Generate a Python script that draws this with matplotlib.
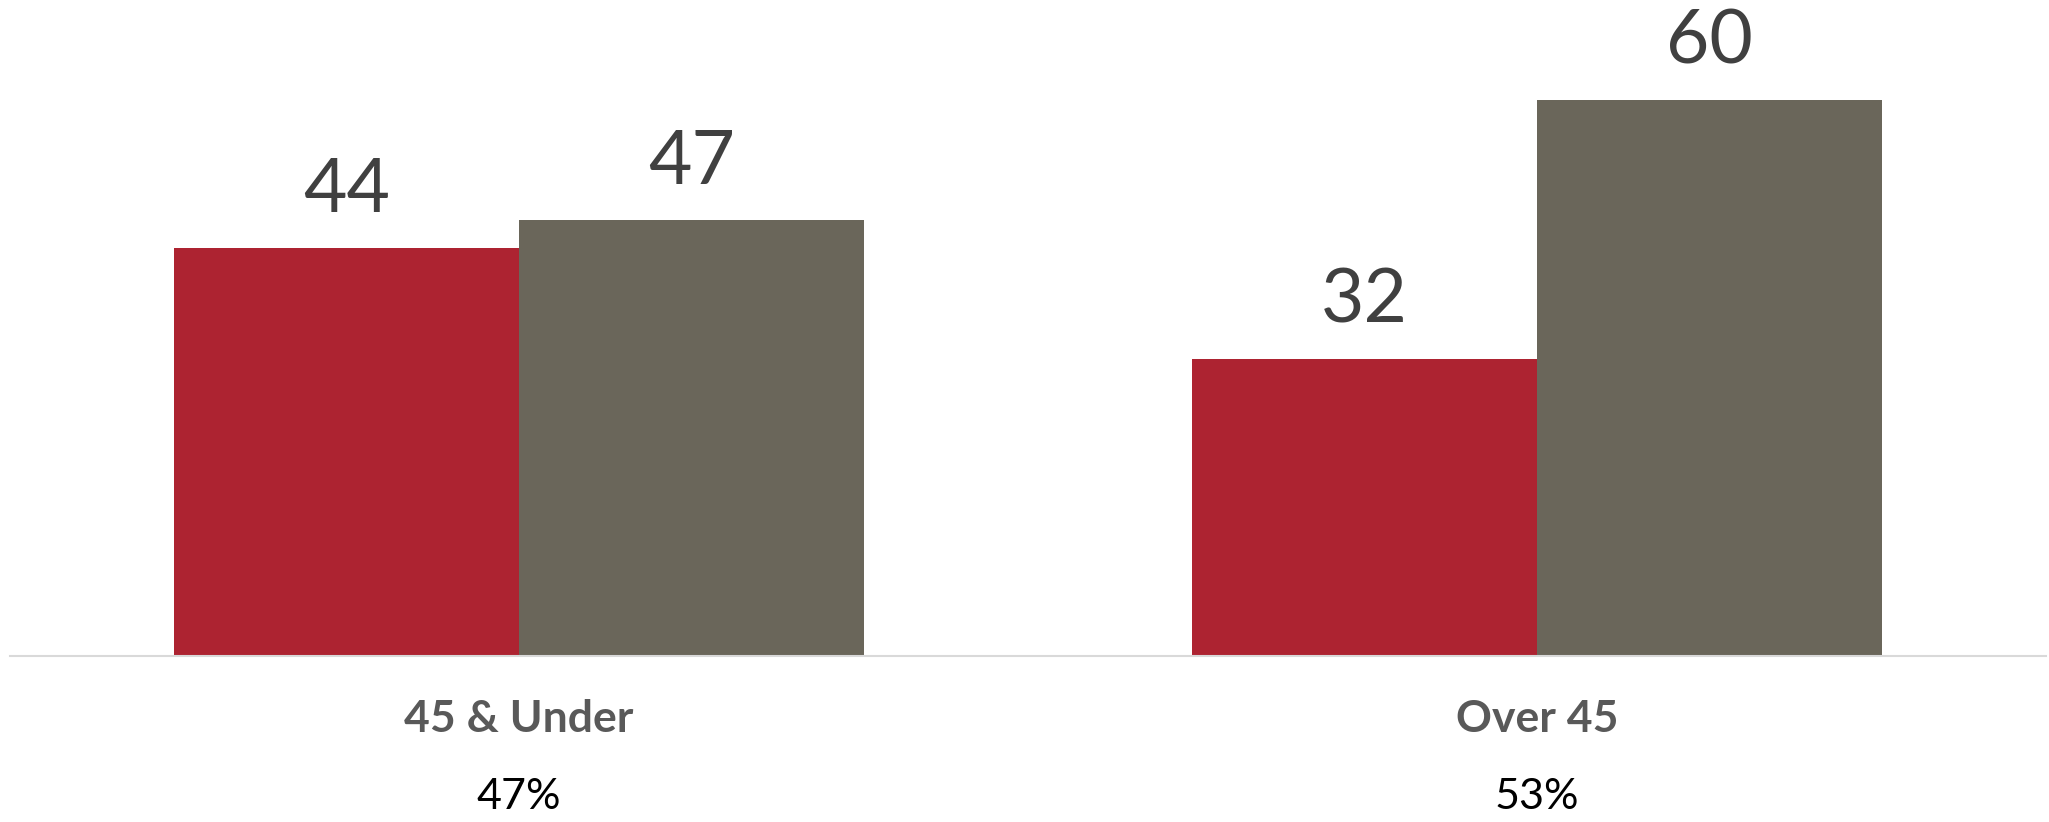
import matplotlib
matplotlib.use("Agg")
import matplotlib.pyplot as plt
import numpy as np

categories = ["45 & Under", "Over 45"]
shares = ["47%", "53%"]
series_red = [44, 32]
series_gray = [47, 60]

W, H = 2049, 822
fig = plt.figure(figsize=(W / 100, H / 100), dpi=100)
fig.patch.set_facecolor("white")

base_px = 656
ax = fig.add_axes([10 / W, 1 - base_px / H, 2036 / W, base_px / H])
ax.patch.set_alpha(0)
x = np.arange(len(categories))
bw = 0.339
red = "#ad2331"
gray = "#6a665a"
b1 = ax.bar(x - bw / 2, series_red, bw, color=red, zorder=2)
b2 = ax.bar(x + bw / 2, series_gray, bw, color=gray, zorder=2)
ax.set_xlim(-0.5, 1.5)
ax.set_ylim(0, base_px / 9.27)
for s in ["top", "right", "left"]:
    ax.spines[s].set_visible(False)
ax.spines["bottom"].set_color("#d9d9d9")
ax.spines["bottom"].set_linewidth(1.5)
ax.set_xticks([])
ax.set_yticks([])

for bars in (b1, b2):
    for r in bars:
        ax.annotate(f"{int(r.get_height())}", (r.get_x() + r.get_width() / 2, r.get_height()),
                    xytext=(0, 17), textcoords="offset points", ha="center", va="bottom",
                    fontsize=54, color="#404040", family="Lato", annotation_clip=False)

for i, (c, s) in enumerate(zip(categories, shares)):
    xc = (10 + 1018 * (i + 0.5)) / W
    fig.text(xc, 1 - 719 / H, c, ha="center", va="center", fontsize=32,
             fontweight="bold", color="#595959", family="Lato")
    fig.text(xc, 1 - 797 / H, s, ha="center", va="center", fontsize=31,
             color="#000000", family="Lato")

fig.savefig("out.png", dpi=100)
